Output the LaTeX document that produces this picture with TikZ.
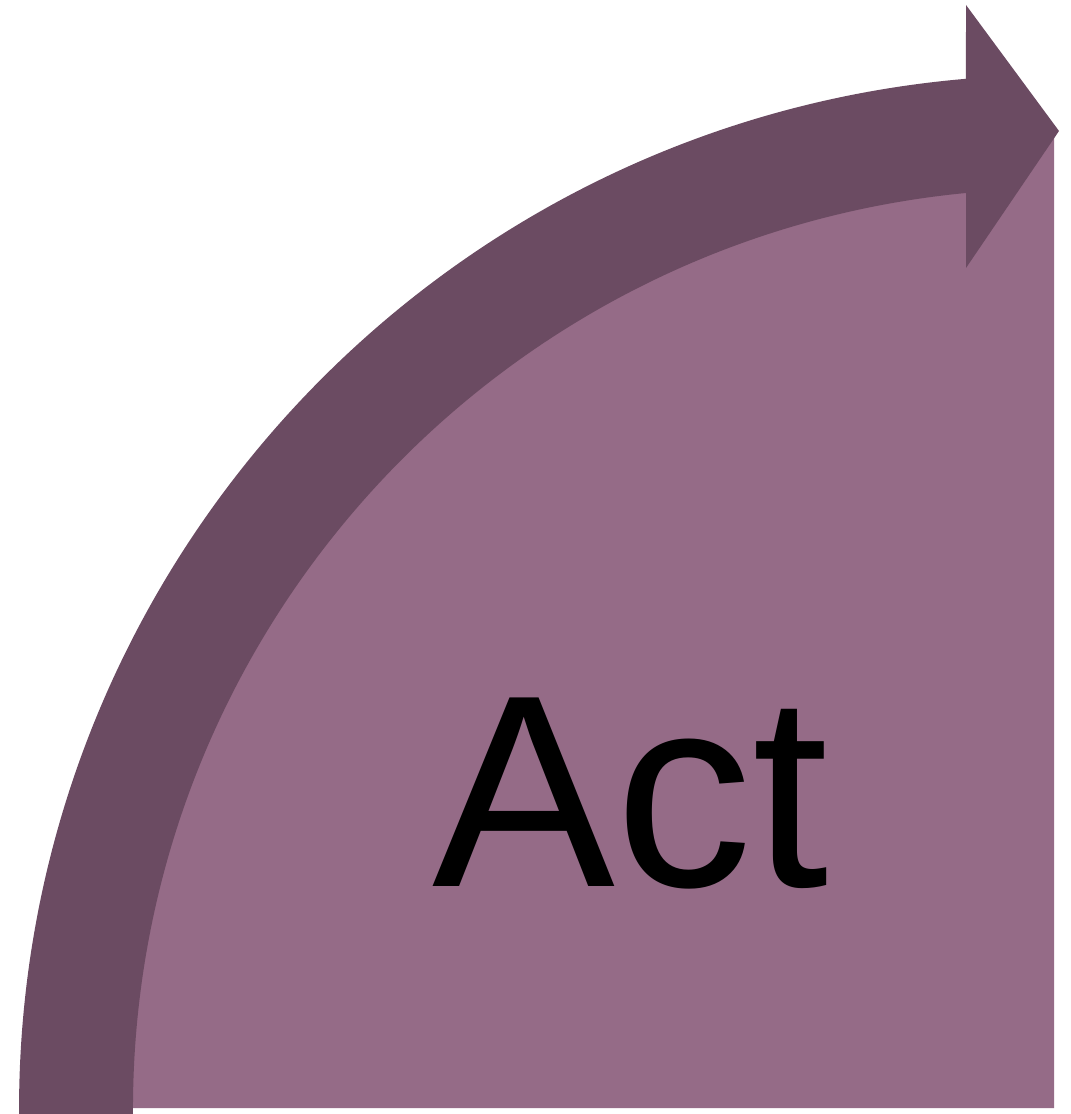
\documentclass[tikz,border=0pt]{standalone}
\usepackage{fontspec}
\setmainfont{Liberation Sans}
\definecolor{bandcol}{HTML}{6B4B62}
\definecolor{quadcol}{HTML}{956B87}

\begin{document}
\begin{tikzpicture}[x=1cm,y=1cm,
  quad/.style={fill=quadcol},
  band/.style={fill=bandcol},
  label/.style={inner sep=0pt,anchor=base,font=\fontsize{78}{94}\selectfont}]
  \useasboundingbox (0,0) rectangle (10.71,11.14);
  \coordinate (ctr) at (10.54,0.04);
  % quarter disc under the arrow
  \fill[quad] (10.54,0.06) -- (0.75,0.06)
    arc[start angle=180,end angle=90,radius=9.79] -- cycle;
  % curved arrow
  \fill[band] (ctr) ++(180.4:10.35)
    arc[start angle=180.4,end angle=94.88,radius=10.35]
    -- (9.66,11.09) -- (10.59,9.83) -- (9.66,8.46) -- (9.66,9.21)
    arc[start angle=95.48,end angle=180.4,radius=9.21] -- cycle;
  \node[label] (act) at (6.31,2.27) {Act};
\end{tikzpicture}
\end{document}
